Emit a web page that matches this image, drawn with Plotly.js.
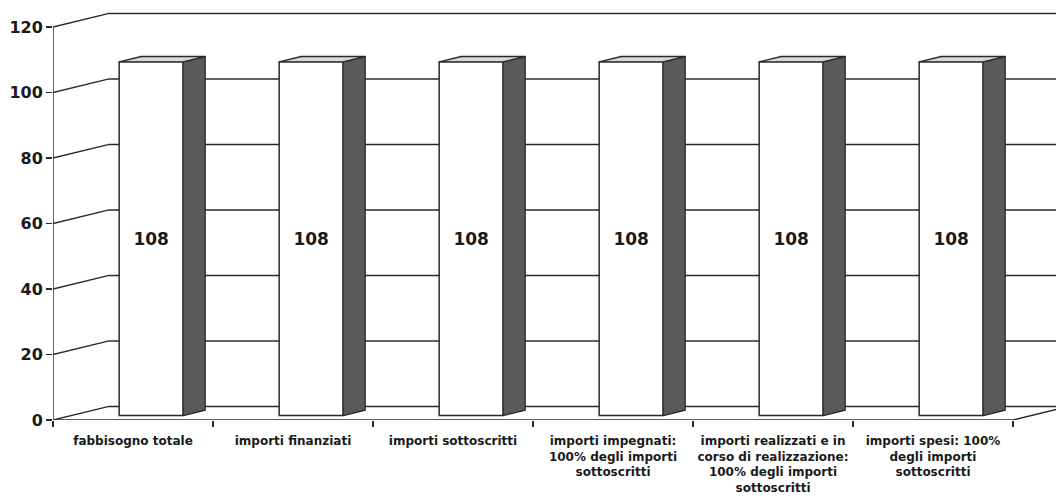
<!DOCTYPE html>
<html>
<head>
<meta charset="utf-8">
<script src="https://cdn.plot.ly/plotly-3.0.1.min.js"></script>
<style>html,body{margin:0;padding:0;background:#fff;}#chart{width:1056px;height:499px;}</style>
</head>
<body>
<div id="chart"></div>
<script>
const categories = [
  "fabbisogno totale",
  "importi finanziati",
  "importi sottoscritti",
  "importi impegnati:<br>100% degli importi<br>sottoscritti",
  "importi realizzati e in<br>corso di realizzazione:<br>100% degli importi<br>sottoscritti",
  "importi spesi: 100%<br>degli importi<br>sottoscritti"
];
const values = [108, 108, 108, 108, 108, 108];
const yTickValues = [0, 20, 40, 60, 80, 100, 120];

// 3D projection style constants (depth of the chart box in axis units)
const DX = 0.344, DY = 4.1;      // full depth offset
const F0 = 0.33, F1 = 0.73;      // bar front / back depth fraction
const BW = 0.4;                  // bar width
const LINE = '#2a2a2a';
const xMin = -0.5, xMax = -0.5 + 1003 / 160;
const nCat = categories.length;

const traces = [];
// front faces
traces.push({
  type: 'bar',
  x: values.map((v, i) => i + F0 * DX),
  y: values,
  base: values.map(() => F0 * DY),
  width: values.map(() => BW),
  marker: {color: '#ffffff', line: {color: LINE, width: 1.5}},
  text: values.map(v => String(v)),
  textposition: 'inside',
  insidetextanchor: 'middle',
  constraintext: 'none',
  textangle: 0,
  textfont: {family: 'DejaVu Sans', size: 17, color: '#1a1a1a', weight: 'bold'},
  hoverinfo: 'skip',
  showlegend: false
});
// side and top faces
values.forEach((v, i) => {
  const xl = i + F0 * DX - BW / 2, xr = i + F0 * DX + BW / 2;
  const b = F0 * DY, t = F0 * DY + v;
  const sx = (F1 - F0) * DX, sy = (F1 - F0) * DY;
  traces.push({
    type: 'scatter', mode: 'lines', fill: 'toself',
    x: [xr, xr + sx, xr + sx, xr, xr],
    y: [b, b + sy, t + sy, t, b],
    fillcolor: '#5a5a5a', line: {color: LINE, width: 1.3},
    hoverinfo: 'skip', showlegend: false
  });
  traces.push({
    type: 'scatter', mode: 'lines', fill: 'toself',
    x: [xl, xl + sx, xr + sx, xr, xl],
    y: [t, t + sy, t + sy, t, t],
    fillcolor: '#d8d8d8', line: {color: LINE, width: 1.3},
    hoverinfo: 'skip', showlegend: false
  });
});

const shapes = [];
const ln = (x0, y0, x1, y1) => ({type: 'line', xref: 'x', yref: 'y', x0, y0, x1, y1, layer: 'below', line: {color: LINE, width: 1.4}});
yTickValues.forEach(v => {
  shapes.push(ln(xMin, v, xMin + DX, v + DY));
  shapes.push(ln(xMin + DX, v + DY, nCat - 0.5 + DX, v + DY));
});
// front axis and floor
shapes.push(ln(xMin, 0, xMin, yTickValues[yTickValues.length - 1]));
shapes.push(ln(xMin, 0, nCat - 0.5, 0));
shapes.push(ln(nCat - 0.5, 0, nCat - 0.5 + DX, DY));

const boundaries = [];
for (let i = 0; i <= nCat; i++) boundaries.push(i - 0.5);

const layout = {
  width: 1056, height: 499,
  margin: {l: 53, r: 0, t: 0, b: 79},
  paper_bgcolor: '#ffffff', plot_bgcolor: '#ffffff',
  showlegend: false,
  xaxis: {
    range: [xMin, xMax], tickmode: 'array',
    tickvals: categories.map((c, i) => i), ticktext: categories,
    ticks: '', showgrid: false, zeroline: false, showline: false,
    ticklabelstandoff: 12,
    tickfont: {family: 'DejaVu Sans', size: 12, color: '#1a1a1a', weight: 'bold'},
    fixedrange: true
  },
  xaxis2: {
    overlaying: 'x', anchor: 'y', side: 'bottom',
    range: [xMin, xMax], tickmode: 'array', tickvals: boundaries,
    ticks: 'outside', ticklen: 6, tickwidth: 1.4, tickcolor: LINE,
    showticklabels: false, showgrid: false, zeroline: false, showline: false
  },
  yaxis: {
    range: [0, 420 / 3.275], tickmode: 'array', tickvals: yTickValues,
    ticks: 'outside', ticklen: 6, tickwidth: 1.4, tickcolor: LINE,
    showgrid: false, zeroline: false, showline: false,
    tickfont: {family: 'DejaVu Sans', size: 16, color: '#1a1a1a', weight: 'bold'},
    fixedrange: true
  },
  shapes: shapes,
  bargap: 0
};
// dummy trace to activate xaxis2
traces.push({type: 'scatter', x: [xMin], y: [0], xaxis: 'x2', yaxis: 'y', mode: 'markers', marker: {opacity: 0}, hoverinfo: 'skip', showlegend: false});

Plotly.newPlot('chart', traces, layout, {displayModeBar: false, staticPlot: true});
</script>
</body>
</html>
